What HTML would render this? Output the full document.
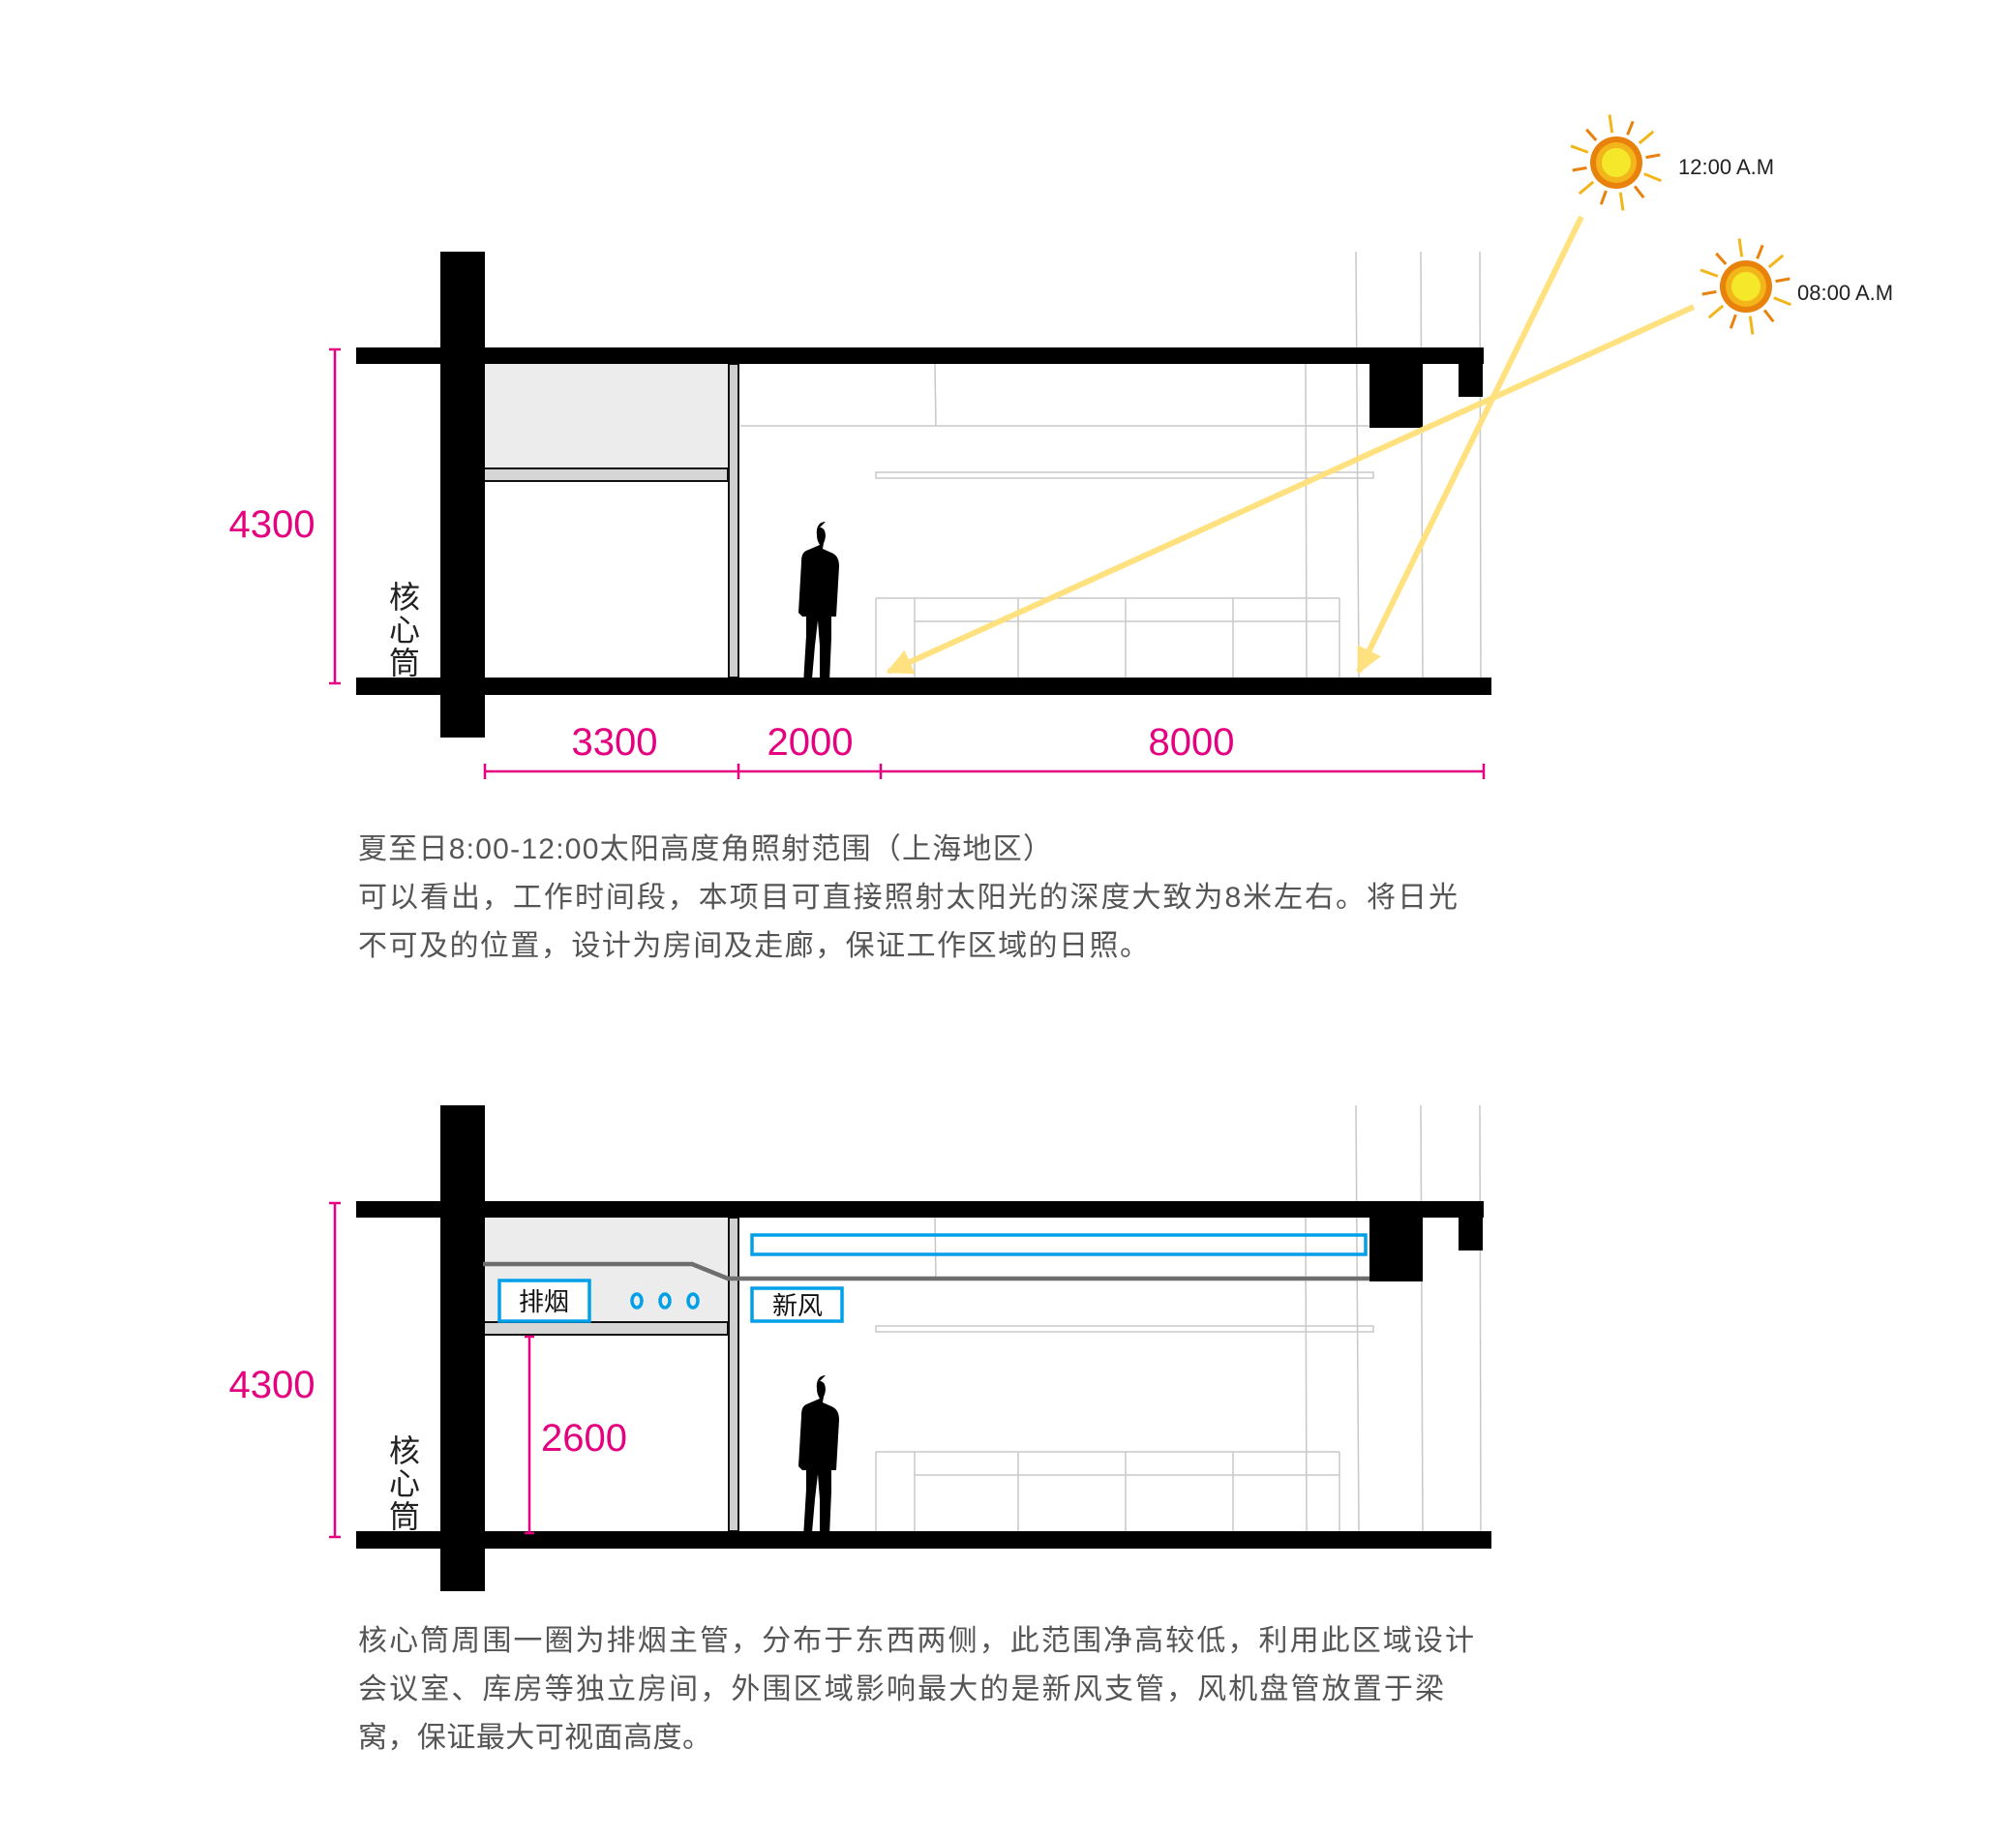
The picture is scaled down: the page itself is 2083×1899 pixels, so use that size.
<!DOCTYPE html>
<html><head><meta charset="utf-8"><style>
html,body{margin:0;padding:0;background:#fff}
svg{display:block}
text{font-family:"Liberation Sans","Noto Sans CJK SC",sans-serif}
</style></head><body>
<svg width="2083" height="1899" viewBox="0 0 2083 1899" xmlns="http://www.w3.org/2000/svg">
<defs>
<marker id="ah" viewBox="0 0 10 10" refX="9" refY="5" markerWidth="4.5" markerHeight="4.5" orient="auto" markerUnits="strokeWidth">
<path d="M0,0 L10,5 L0,10 z" fill="#ffe07a"/></marker>
<g id="sketch" stroke="#c8c8c8" stroke-width="1.5" fill="none">
<line x1="1401" y1="260" x2="1404" y2="700"/>
<line x1="1468" y1="260" x2="1470" y2="700"/>
<line x1="1529" y1="260" x2="1530" y2="700"/>
<line x1="765" y1="440" x2="1415" y2="440"/>
<line x1="966" y1="376" x2="967" y2="440"/>
<line x1="1349" y1="376" x2="1350" y2="700"/>
<rect x="905" y="488" width="514" height="6"/>
<line x1="905" y1="618" x2="1384" y2="618"/>
<line x1="945" y1="642" x2="1384" y2="642"/>
<line x1="905" y1="618" x2="905" y2="700"/>
<line x1="945" y1="618" x2="945" y2="700"/>
<line x1="1052" y1="618" x2="1052" y2="700"/>
<line x1="1163" y1="618" x2="1163" y2="700"/>
<line x1="1274" y1="618" x2="1274" y2="700"/>
<line x1="1384" y1="618" x2="1384" y2="700"/>
</g>
<g id="struct">
<rect x="499" y="376" width="253" height="108" fill="#ececec"/>
<rect x="499" y="484" width="253" height="13" fill="#d6d6d6" stroke="#111" stroke-width="2"/>
<rect x="753" y="376" width="10" height="324" fill="#d0d0d0" stroke="#111" stroke-width="2"/>
<rect x="368" y="359" width="1165" height="17" fill="#000"/>
<rect x="368" y="700" width="1173" height="18" fill="#000"/>
<rect x="455" y="260" width="46" height="502" fill="#000"/>
<rect x="1415" y="359" width="55" height="83" fill="#000"/>
<rect x="1507" y="359" width="25" height="51" fill="#000"/>
<path d="M853,539 c-7,0 -10,6 -9,14 c0,5 2,8 3,10 l-14,6 c-4,2 -5,6 -5,12 l-3,52 l4,4 l4,0 l0,20 l-3,50 l-8,6 l16,0 l4,-46 l3,-26 l2,26 l0,46 l12,0 l-2,-8 l2,-46 l0,-22 l5,0 l3,-52 c0,-8 -3,-12 -8,-14 l-9,-4 l1,-6 c3,-5 3,-16 -4,-16 z" fill="#000"/>
</g>
<g id="sun">
<circle r="27" fill="#e8820c"/><circle r="21" fill="#f3b61a"/><circle r="15" fill="#f5e82b"/>
<g stroke-width="3">
<line x1="0" y1="-31" x2="0" y2="-50" stroke="#f3b61a" transform="rotate(-8)"/>
<line x1="0" y1="-31" x2="0" y2="-46" stroke="#e8820c" transform="rotate(22)"/>
<line x1="0" y1="-31" x2="0" y2="-50" stroke="#f3b61a" transform="rotate(50)"/>
<line x1="0" y1="-31" x2="0" y2="-46" stroke="#e8820c" transform="rotate(80)"/>
<line x1="0" y1="-31" x2="0" y2="-50" stroke="#f3b61a" transform="rotate(112)"/>
<line x1="0" y1="-31" x2="0" y2="-46" stroke="#e8820c" transform="rotate(142)"/>
<line x1="0" y1="-31" x2="0" y2="-50" stroke="#f3b61a" transform="rotate(172)"/>
<line x1="0" y1="-31" x2="0" y2="-46" stroke="#e8820c" transform="rotate(200)"/>
<line x1="0" y1="-31" x2="0" y2="-50" stroke="#f3b61a" transform="rotate(230)"/>
<line x1="0" y1="-31" x2="0" y2="-46" stroke="#e8820c" transform="rotate(260)"/>
<line x1="0" y1="-31" x2="0" y2="-50" stroke="#f3b61a" transform="rotate(290)"/>
<line x1="0" y1="-31" x2="0" y2="-46" stroke="#e8820c" transform="rotate(318)"/>
</g></g>
</defs>

<use href="#sketch"/>
<use href="#struct"/>
<text x="418" y="0" font-size="32" fill="#222" text-anchor="middle"><tspan x="418" y="628">核</tspan><tspan x="418" y="662">心</tspan><tspan x="418" y="696">筒</tspan></text>
<g stroke="#e4007f" stroke-width="2.5" fill="none">
<line x1="346" y1="361" x2="346" y2="706"/><line x1="340" y1="361" x2="352" y2="361"/><line x1="340" y1="706" x2="352" y2="706"/>
<line x1="501" y1="797" x2="1533" y2="797"/>
<line x1="501" y1="789" x2="501" y2="805"/><line x1="763" y1="789" x2="763" y2="805"/><line x1="910" y1="789" x2="910" y2="805"/><line x1="1533" y1="789" x2="1533" y2="805"/>
</g>
<g fill="#e4007f" font-size="40" text-anchor="middle">
<text x="281" y="555">4300</text>
<text x="635" y="780">3300</text>
<text x="837" y="780">2000</text>
<text x="1231" y="780">8000</text>
</g>
<g stroke="#ffe07a" stroke-width="6" fill="none" opacity="0.95">
<line x1="1634" y1="224" x2="1404" y2="694" marker-end="url(#ah)"/>
<line x1="1750" y1="317" x2="918" y2="694" marker-end="url(#ah)"/>
</g>
<use href="#sun" x="1670" y="168"/>
<use href="#sun" x="1804" y="296"/>
<text x="1734" y="180" font-size="22" fill="#222">12:00 A.M</text>
<text x="1857" y="310" font-size="22" fill="#222">08:00 A.M</text>

<g fill="#555" font-size="30">
<text x="370" y="887" textLength="717">夏至日8:00-12:00太阳高度角照射范围（上海地区）</text>
<text x="370" y="937" textLength="1136">可以看出，工作时间段，本项目可直接照射太阳光的深度大致为8米左右。将日光</text>
<text x="370" y="987" textLength="817">不可及的位置，设计为房间及走廊，保证工作区域的日照。</text>
</g>

<g transform="translate(0,882)">
<use href="#sketch"/>
<use href="#struct"/>
<polyline points="499,424 715,424 752,439 1415,439" fill="none" stroke="#6e6e6e" stroke-width="4.5"/>
<rect x="777" y="394" width="634" height="20" fill="none" stroke="#00a0e9" stroke-width="3.5"/>
<rect x="516" y="441" width="93" height="42" fill="#fff" stroke="#00a0e9" stroke-width="3.5"/>
<rect x="777" y="449" width="93" height="34" fill="#fff" stroke="#00a0e9" stroke-width="3.5"/>
<text x="562" y="472" font-size="26" fill="#111" text-anchor="middle">排烟</text>
<text x="824" y="476" font-size="26" fill="#111" text-anchor="middle">新风</text>
<g fill="none" stroke="#00a0e9" stroke-width="3.5">
<ellipse cx="658" cy="462" rx="5" ry="7"/><ellipse cx="687" cy="462" rx="5" ry="7"/><ellipse cx="716" cy="462" rx="5" ry="7"/>
</g>
<text x="418" y="0" font-size="32" fill="#222" text-anchor="middle"><tspan x="418" y="628">核</tspan><tspan x="418" y="662">心</tspan><tspan x="418" y="696">筒</tspan></text>
<g stroke="#e4007f" stroke-width="2.5" fill="none">
<line x1="346" y1="361" x2="346" y2="706"/><line x1="340" y1="361" x2="352" y2="361"/><line x1="340" y1="706" x2="352" y2="706"/>
<line x1="547" y1="499" x2="547" y2="702"/><line x1="542" y1="499" x2="552" y2="499"/><line x1="542" y1="702" x2="552" y2="702"/>
</g>
<text x="281" y="562" font-size="40" fill="#e4007f" text-anchor="middle">4300</text>
<text x="559" y="617" font-size="40" fill="#e4007f">2600</text>
</g>

<g fill="#555" font-size="30">
<text x="370" y="1705" textLength="1153">核心筒周围一圈为排烟主管，分布于东西两侧，此范围净高较低，利用此区域设计</text>
<text x="370" y="1755" textLength="1122">会议室、库房等独立房间，外围区域影响最大的是新风支管，风机盘管放置于梁</text>
<text x="370" y="1805" textLength="365">窝，保证最大可视面高度。</text>
</g>
</svg>
</body></html>
